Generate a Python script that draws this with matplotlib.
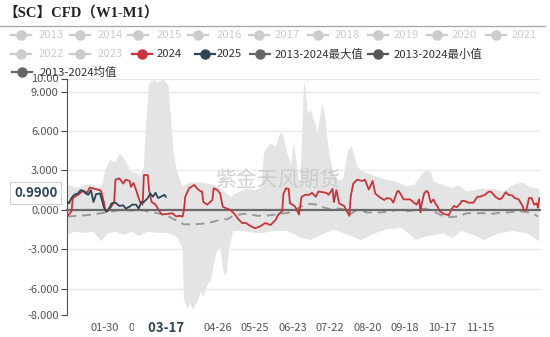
import numpy as np
import matplotlib.pyplot as plt
from matplotlib.lines import Line2D

plt.rcParams['font.family'] = ['Noto Sans CJK SC', 'DejaVu Sans']

# Day index within the year (0 = 01-01, leap-year calendar) and CFD values
days_2024 = [0, 3, 4, 8, 12, 15, 17, 21, 25, 26,
             28, 29, 31, 33, 36, 37, 40, 43, 45, 48,
             49, 51, 53, 56, 58, 59, 62, 63, 65, 68,
             71, 73, 78, 81, 84, 86, 89, 90, 91, 94,
             98, 100, 103, 104, 105, 108, 112, 113, 116, 118,
             120, 122, 126, 129, 132, 135, 138, 141, 145, 149,
             153, 157, 161, 163, 166, 167, 169, 171, 172, 174,
             176, 179, 181, 184, 187, 189, 192, 194, 197, 200,
             202, 205, 206, 208, 210, 214, 216, 218, 219, 221,
             224, 228, 230, 233, 236, 238, 241, 245, 247, 250,
             252, 255, 256, 258, 260, 265, 268, 270, 272, 273,
             274, 276, 278, 279, 281, 283, 285, 286, 288, 291,
             295, 297, 299, 301, 304, 305, 308, 310, 314, 317,
             319, 323, 326, 328, 331, 334, 336, 339, 341, 344,
             346, 349, 352, 353, 355, 357, 359, 361, 363, 364, 365]
cfd_2024 = [-0.45, -0.1, 0.9, 1.15, 1.45, 1.3, 1.7, 1.6, 1.5, 1.4,
            0.6, 0.0, -0.1, 0.15, 0.6, 2.3, 2.4, 2.0, 2.3, 2.2,
            1.75, 2.05, 1.5, 0.6, 0.4, 2.65, 2.65, 1.5, 0.6, 0.4,
            -0.1, -0.35, -0.3, -0.25, -0.5, -0.45, -0.5, 0.0, 1.0, 1.65,
            1.9, 1.65, 1.4, 1.4, 0.6, 0.4, 0.75, 1.65, 1.5, 1.25,
            0.25, 0.15, 0.0, -0.3, -0.7, -1.0, -1.0, -1.2, -1.4, -1.25,
            -1.0, -1.15, -0.75, -0.35, -0.1, 1.25, 1.65, 1.6, 0.5, 0.4,
            0.25, -0.35, 1.0, 1.15, 1.15, 1.3, 1.0, 1.4, 1.35, 1.3,
            1.15, 1.6, 0.6, 1.5, 0.5, 0.3, -0.1, -0.45, 1.0, 2.0,
            2.3, 2.2, 2.3, 1.55, 2.2, 1.25, 1.0, 0.75, 0.9, 0.85,
            0.55, 1.4, 1.45, 1.15, 0.8, 0.8, 0.55, 0.4, 0.8, -0.2,
            0.5, 1.3, 1.45, 1.3, 0.55, 0.8, 0.4, 0.3, -0.1, -0.3,
            -0.4, 0.05, 0.3, 0.2, 0.5, 0.7, 0.65, 0.55, 0.55, 1.0,
            1.0, 1.15, 1.4, 1.35, 1.0, 0.8, 0.9, 1.35, 1.15, 1.1,
            0.9, 0.8, 0.3, 0.0, 0.0, 0.9, 0.9, 0.4, 0.5, 0.15, 0.9]

days_2025 = [0, 1, 3, 5, 8, 10, 12, 14, 16, 18,
             20, 22, 25, 27, 28, 30, 32, 34, 37, 40,
             43, 45, 48, 50, 53, 55, 57, 59, 62, 64,
             66, 68, 70, 72, 75, 76]
cfd_2025 = [0.6, 0.5, 0.9, 1.15, 1.25, 1.5, 1.45, 1.25, 1.15, 1.5,
            0.6, 1.2, 1.25, 0.6, 0.2, -0.15, 0.1, 0.5, 0.55, 0.3,
            0.35, 0.1, 0.25, 0.4, 0.4, 0.1, 0.6, 0.6, 0.9, 1.25,
            1.0, 1.3, 0.9, 1.0, 1.15, 0.99]

days_mean = [0, 8, 15, 26, 33, 41, 49, 56, 64, 72,
             78, 84, 90, 97, 105, 113, 118, 124, 128, 136,
             142, 147, 152, 157, 165, 172, 178, 183, 188, 193,
             198, 203, 209, 213, 219, 224, 232, 240, 247, 255,
             263, 271, 277, 283, 291, 296, 302, 309, 317, 325,
             329, 335, 340, 350, 358, 364]
cfd_mean = [-0.5, -0.45, -0.4, -0.25, -0.15, 0.0, -0.05, 0.0, -0.15, -0.3,
            -0.5, -0.8, -1.1, -1.1, -1.05, -0.9, -0.75, -0.7, -0.45, -0.3,
            -0.35, -0.45, -0.45, -0.4, -0.3, -0.2, 0.1, 0.4, 0.45, 0.4,
            0.2, 0.05, 0.1, 0.05, -0.3, 0.0, -0.2, -0.2, -0.15, 0.0,
            -0.1, 0.0, 0.1, -0.1, -0.5, -0.55, -0.5, -0.25, -0.25, -0.25,
            -0.3, -0.2, -0.2, -0.1, -0.2, -0.5]

days_max = [0, 6, 12, 18, 23, 27, 29, 33, 37, 40,
            43, 46, 49, 53, 56, 59, 60, 63, 67, 70,
            74, 78, 80, 82, 85, 89, 95, 103, 113, 120,
            126, 131, 138, 145, 150, 152, 157, 161, 165, 167,
            170, 173, 175, 178, 180, 183, 184, 186, 188, 190,
            192, 193, 197, 199, 202, 205, 209, 213, 217, 220,
            224, 227, 232, 240, 246, 252, 263, 268, 275, 278,
            281, 283, 287, 298, 302, 309, 319, 329, 337, 345,
            352, 358, 365]
cfd_max = [1.9, 1.7, 1.8, 2.0, 1.7, 1.9, 3.0, 3.8, 3.6, 4.3,
           4.0, 3.5, 2.9, 2.8, 2.6, 3.2, 5.5, 9.6, 9.9, 9.7,
           9.9, 9.5, 7.0, 4.3, 2.8, 1.8, 2.1, 2.1, 1.9, 1.5,
           1.0, 1.3, 1.6, 1.5, 1.7, 4.4, 5.05, 4.8, 5.95, 5.6,
           4.3, 3.4, 5.2, 3.0, 2.0, 9.75, 9.2, 7.35, 7.6, 7.0,
           6.6, 5.6, 8.1, 7.3, 4.55, 3.0, 2.3, 2.3, 4.55, 4.8,
           3.3, 3.0, 2.8, 2.5, 2.3, 2.2, 1.8, 1.9, 2.8, 3.0,
           2.9, 2.2, 2.0, 1.65, 1.9, 1.4, 1.6, 1.6, 1.4, 1.9,
           2.1, 1.7, 1.6]

days_min = [0, 5, 12, 20, 26, 31, 37, 43, 50, 55,
            62, 70, 77, 84, 87, 89, 90, 93, 95, 97,
            101, 103, 105, 108, 111, 113, 116, 118, 121, 123,
            125, 128, 134, 142, 149, 159, 170, 180, 188, 196,
            206, 217, 227, 237, 247, 258, 265, 269, 278, 291,
            298, 304, 314, 322, 333, 345, 356, 365]
cfd_min = [-1.9, -1.65, -1.75, -1.65, -2.4, -1.8, -1.65, -1.9, -1.65, -2.0,
           -1.65, -1.75, -1.75, -2.0, -2.5, -3.0, -6.8, -7.5, -7.1, -7.6,
           -6.85, -6.2, -6.6, -5.8, -5.3, -4.2, -3.0, -2.8, -5.0, -4.75,
           -3.0, -1.6, -1.6, -1.7, -1.8, -1.6, -1.6, -2.1, -2.3, -1.9,
           -1.5, -1.9, -2.3, -1.8, -1.5, -1.35, -1.9, -2.3, -2.0, -1.8,
           -2.15, -1.6, -1.9, -2.3, -1.8, -1.6, -1.8, -2.4]

tick_days = [29, 58, 87, 116, 145, 174, 203, 232, 261, 290, 319]
tick_labels = ['01-30', '02-28', '03-28', '04-26', '05-25', '06-23',
               '07-22', '08-20', '09-18', '10-17', '11-15']
current_day = 76
current_label = '03-17'
y_ticks = [10, 9, 6, 3, 0, -3, -6, -8]
y_labels = ['10.00', '9.000', '6.000', '3.000', '0.000', '-3.000', '-6.000', '-8.000']

RED = '#c8343a'
NAVY = '#2f4554'
BAND = '#e4e4e4'
OFF = '#cccccc'

W, H = 550, 337
fig = plt.figure(figsize=(W / 100, H / 100), dpi=100)
ax = fig.add_axes([67 / W, 1 - 315 / H, 473 / W, 236.5 / H])

# max/min envelope of 2013-2024
env_x = np.concatenate([days_max, days_min[::-1]])
env_y = np.concatenate([cfd_max, cfd_min[::-1]])
ax.fill(env_x, env_y, color=BAND, lw=0, zorder=1)

ax.text(0.446, 0.57, '紫金天风期货', transform=ax.transAxes, fontsize=15,
        color='#c4c4c4', alpha=0.75, ha='center', va='center', zorder=1.5)

ax.plot(days_mean, cfd_mean, color='#9a9a9a', lw=1.4, dashes=(4.5, 3), zorder=2)
ax.plot(days_2024, cfd_2024, color=RED, lw=1.3, zorder=3)
ax.plot(days_2025, cfd_2025, color=NAVY, lw=1.3, zorder=4)

ax.set_xlim(-0.5, 365.5)
ax.set_ylim(-8, 10)

ax.set_yticks(y_ticks)
ax.set_yticklabels(y_labels)
ax.tick_params(axis='y', length=4, color='#444', labelsize=8, labelcolor='#555', pad=2)
ax.grid(axis='y', color='#e8e8e8', lw=1)
ax.set_axisbelow(True)

# x axis drawn on the zero line, labels kept at the bottom
for s in ['top', 'right']:
    ax.spines[s].set_visible(False)
ax.spines['left'].set_color('#555')
ax.spines['bottom'].set_position(('data', 0))
ax.spines['bottom'].set_color('#6a6a6a')
ax.spines['bottom'].set_linewidth(1.6)
ax.set_xticks(tick_days)
ax.tick_params(axis='x', length=4, color='#333', labelbottom=False)

sec = ax.secondary_xaxis('bottom')
sec.set_xticks(tick_days)
sec.set_xticklabels(tick_labels)
sec.tick_params(length=0, labelsize=8, labelcolor='#555', pad=6)
sec.spines['bottom'].set_visible(False)

# highlighted date under the axis, on a white tag
ax.annotate('    ' + current_label + '    ', xy=(current_day, 0),
            xycoords=('data', 'axes fraction'), xytext=(0, -9.5),
            textcoords='offset points', ha='center', va='center',
            fontsize=9.5, fontweight='bold', color=NAVY,
            bbox=dict(boxstyle='square,pad=0.12', fc='white', ec='none'),
            annotation_clip=False, zorder=10)

ax.annotate(f'{cfd_2025[-1]:.4f}', xy=(0, cfd_2025[-1]),
            xycoords=('axes fraction', 'data'), xytext=(-7, 3),
            textcoords='offset points', ha='right', va='center',
            fontsize=9.5, fontweight='bold', color=NAVY,
            bbox=dict(boxstyle='square,pad=0.3', fc='white', ec='#d0d0d0', lw=0.8),
            annotation_clip=False, zorder=10)

# title and rule
fig.text(3 / W, 1 - 13 / H, '【SC】CFD（W1-M1）', fontsize=10.5, fontweight='bold',
         family=['Liberation Serif', 'Noto Sans CJK SC'], color='#222', va='center')
fig.add_artist(Line2D([0, 545 / W], [1 - 26 / H, 1 - 26 / H], color='#aaaaaa', lw=1))

# legend
legend_items = [
    ('2013', OFF, OFF, 20.7, 39, 35), ('2014', OFF, OFF, 80, 98, 35),
    ('2015', OFF, OFF, 138, 157, 35), ('2016', OFF, OFF, 198, 217, 35),
    ('2017', OFF, OFF, 259, 275, 35), ('2018', OFF, OFF, 318, 335, 35),
    ('2019', OFF, OFF, 378, 394, 35), ('2020', OFF, OFF, 437, 452, 35),
    ('2021', OFF, OFF, 496, 512, 35),
    ('2022', OFF, OFF, 20.7, 39, 54), ('2023', OFF, OFF, 80, 98, 54),
    ('2024', RED, '#333', 142, 157, 54), ('2025', NAVY, '#333', 205, 217, 54),
    ('2013-2024最大值', '#666', '#333', 260, 275, 54),
    ('2013-2024最小值', '#555', '#333', 378, 394, 54),
    ('2013-2024均值', '#666', '#333', 21.7, 40, 72),
]
for label, mc, tc, mx, tx, ty in legend_items:
    yy = 1 - ty / H
    fig.add_artist(Line2D([(mx - 10) / W, (mx + 10) / W], [yy, yy], color=mc, lw=1.6))
    fig.add_artist(Line2D([mx / W], [yy], marker='o', ms=6.5, color=mc, lw=0))
    fig.text(tx / W, yy, label, fontsize=8.2, color=tc, va='center')

fig.savefig('out.png', dpi=100)
